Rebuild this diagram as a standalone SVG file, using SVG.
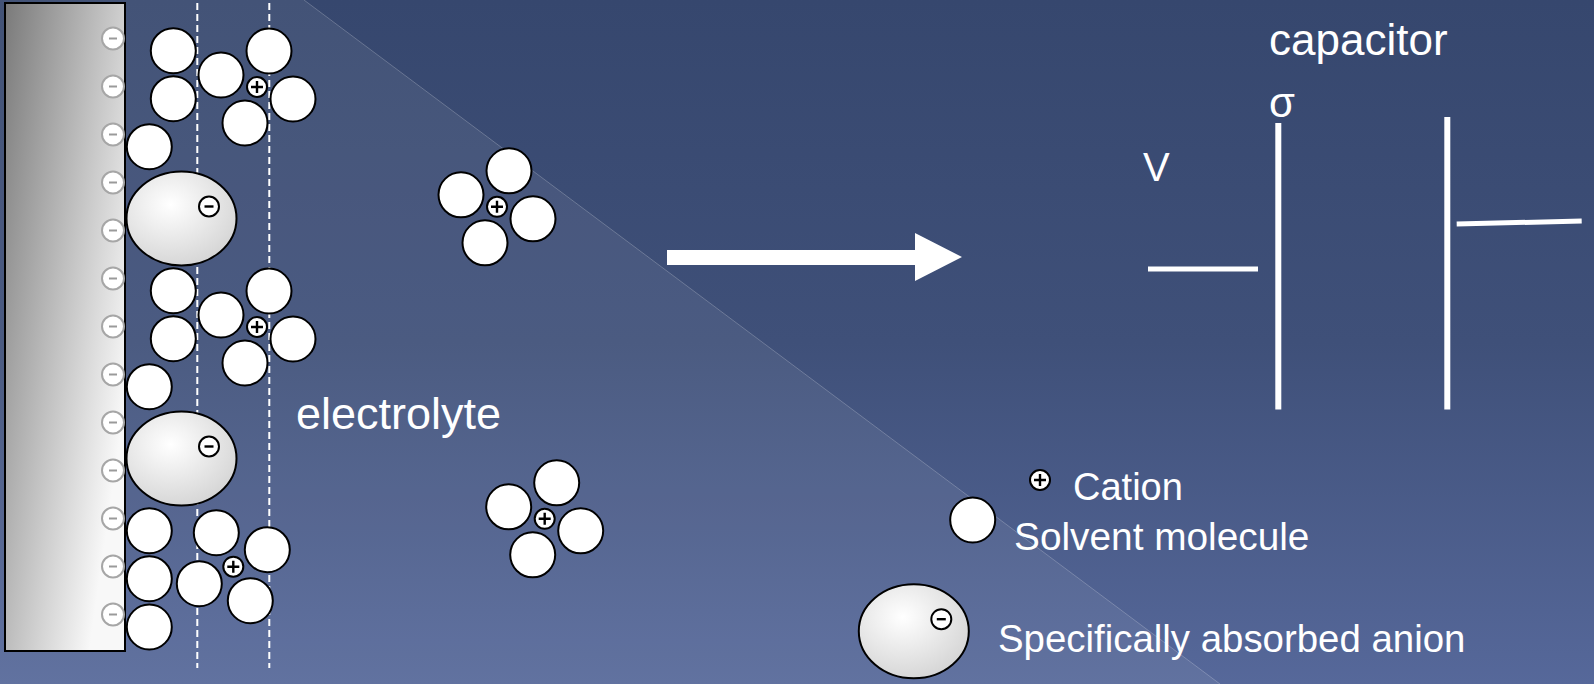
<svg xmlns="http://www.w3.org/2000/svg" xmlns:xlink="http://www.w3.org/1999/xlink" width="1594" height="684" viewBox="0 0 1594 684">
  <style>
    .solv { fill: #ffffff; stroke: #000000; stroke-width: 2; }
    .ion { fill: #ffffff; stroke: #000000; stroke-width: 2; }
    .sign { stroke: #000000; stroke-width: 2.4; fill: none; }
    .surf { fill: #ffffff; stroke: #a6a6a6; stroke-width: 2; }
    .surf-sign { stroke: #9a9a9a; stroke-width: 2; }
    .anion { fill: url(#anionFill); stroke: #000000; stroke-width: 2; }
    .dash { stroke: #ffffff; stroke-width: 2; stroke-dasharray: 7 4; fill: none; }
    .wire { stroke: #ffffff; stroke-width: 5; fill: none; }
    .plate { stroke: #ffffff; stroke-width: 6; fill: none; }
    .lbl { font-family: "Liberation Sans", Arial, sans-serif; fill: #ffffff; }
  </style>
  <defs>
    <linearGradient id="bg" x1="0" y1="0" x2="0" y2="1">
      <stop offset="0" stop-color="#36476e"/>
      <stop offset="0.5" stop-color="#3f5079"/>
      <stop offset="1" stop-color="#56689a"/>
    </linearGradient>
    <linearGradient id="metal" gradientUnits="userSpaceOnUse" x1="5" y1="3" x2="179" y2="28">
      <stop offset="0" stop-color="#7a7a7a"/>
      <stop offset="1" stop-color="#f8f8f8"/>
    </linearGradient>
    <radialGradient id="anionFill" cx="0.4" cy="0.35" r="0.7">
      <stop offset="0" stop-color="#ffffff"/>
      <stop offset="1" stop-color="#d4d4d4"/>
    </radialGradient>

    <!-- cation with its charge -->
    <g id="cation">
      <circle class="ion" r="10"/>
      <path class="sign" d="M-6 0H6M0 -6V6"/>
    </g>
    <!-- small charge badge used on anions -->
    <g id="minus">
      <circle class="ion" r="10"/>
      <path class="sign" d="M-4.5 0H4.5" stroke-width="3"/>
    </g>
    <!-- negative surface charge on the electrode -->
    <g id="surf">
      <circle class="surf" r="11"/>
      <path class="surf-sign" d="M-4 0H4"/>
    </g>
    <!-- hydrated cation: four solvent molecules round a cation -->
    <g id="hydA">
      <circle class="solv" cx="-36" cy="-12" r="22.5"/>
      <circle class="solv" cx="12" cy="-36" r="22.5"/>
      <circle class="solv" cx="36" cy="12" r="22.5"/>
      <circle class="solv" cx="-12" cy="36" r="22.5"/>
      <use href="#cation"/>
    </g>
    <g id="hydB">
      <circle class="solv" cx="-17" cy="-34" r="22.5"/>
      <circle class="solv" cx="-34" cy="17" r="22.5"/>
      <circle class="solv" cx="34" cy="-17" r="22.5"/>
      <circle class="solv" cx="17" cy="34" r="22.5"/>
      <use href="#cation"/>
    </g>
    <!-- specifically adsorbed anion -->
    <g id="anion">
      <ellipse class="anion" rx="55" ry="47"/>
      <use href="#minus" x="27.5" y="-12"/>
    </g>
  </defs>

  <!-- background -->
  <rect width="1594" height="684" fill="url(#bg)"/>
  <polygon points="0,0 304,0 1220,684 0,684" fill="#ffffff" fill-opacity="0.065"/>
  <line x1="304" y1="0" x2="1220" y2="684" stroke="#ffffff" stroke-opacity="0.22" stroke-width="1"/>

  <!-- electrode -->
  <g id="electrode">
    <rect x="5" y="3" width="120" height="648" fill="url(#metal)" stroke="#000000" stroke-width="2"/>
  </g>

  <!-- surface charges -->
  <g id="surface-charges">
    <use href="#surf" x="113" y="38.5"/>
    <use href="#surf" x="113" y="86.5"/>
    <use href="#surf" x="113" y="134.5"/>
    <use href="#surf" x="113" y="182.5"/>
    <use href="#surf" x="113" y="230.5"/>
    <use href="#surf" x="113" y="278.5"/>
    <use href="#surf" x="113" y="326.5"/>
    <use href="#surf" x="113" y="374.5"/>
    <use href="#surf" x="113" y="422.5"/>
    <use href="#surf" x="113" y="470.5"/>
    <use href="#surf" x="113" y="518.5"/>
    <use href="#surf" x="113" y="566.5"/>
    <use href="#surf" x="113" y="614.5"/>
  </g>

  <!-- Helmholtz planes -->
  <g id="planes">
    <line class="dash" x1="197.3" y1="3" x2="197.3" y2="668"/>
    <line class="dash" x1="269.3" y1="3" x2="269.3" y2="668"/>
  </g>

  <!-- double layer: top section -->
  <g id="layer-top">
    <circle class="solv" cx="173.3" cy="50.7" r="22.5"/>
    <circle class="solv" cx="173.3" cy="98.7" r="22.5"/>
    <use href="#hydA" x="257" y="87"/>
    <circle class="solv" cx="149.3" cy="146.7" r="22.5"/>
    <use href="#anion" x="181.5" y="218.5"/>
  </g>

  <!-- double layer: middle section -->
  <g id="layer-middle">
    <circle class="solv" cx="173.3" cy="290.7" r="22.5"/>
    <circle class="solv" cx="173.3" cy="338.7" r="22.5"/>
    <use href="#hydA" x="257" y="327"/>
    <circle class="solv" cx="149.3" cy="386.7" r="22.5"/>
    <use href="#anion" x="181.5" y="458.5"/>
  </g>

  <!-- double layer: bottom section -->
  <g id="layer-bottom">
    <circle class="solv" cx="149.3" cy="530.7" r="22.5"/>
    <circle class="solv" cx="149.3" cy="578.7" r="22.5"/>
    <circle class="solv" cx="149.3" cy="627" r="22.5"/>
    <use href="#hydB" x="233.3" y="566.7"/>
  </g>

  <!-- free solvated cations in the bulk -->
  <g id="bulk-cation-1">
    <use href="#hydA" x="497" y="206.8"/>
  </g>
  <g id="bulk-cation-2">
    <use href="#hydA" x="544.7" y="518.8"/>
  </g>

  <g id="electrolyte-label">
    <text class="lbl" x="296" y="429" font-size="45">electrolyte</text>
  </g>

  <!-- connectors -->
  <g id="connectors">
    <polygon points="667,250 915,250 915,233 962,257 915,281 915,265 667,265" fill="#ffffff"/>
  </g>

  <!-- equivalent capacitor -->
  <g id="capacitor">
    <text class="lbl" x="1269" y="55" font-size="44">capacitor</text>
    <text class="lbl" x="1269" y="117" font-size="42">σ</text>
    <text class="lbl" x="1143" y="181" font-size="40">V</text>
    <line class="wire" x1="1148" y1="269" x2="1258" y2="269"/>
    <line class="plate" x1="1278.3" y1="123" x2="1278.3" y2="409.5"/>
    <line class="plate" x1="1447.3" y1="117" x2="1447.3" y2="409.5"/>
    <line class="wire" x1="1456.7" y1="224" x2="1581.7" y2="221"/>
  </g>

  <!-- legend -->
  <g id="legend-cation">
    <use href="#cation" x="1040" y="480"/>
    <text class="lbl" x="1073" y="500" font-size="38">Cation</text>
  </g>
  <g id="legend-solvent">
    <circle class="solv" cx="972.7" cy="520" r="22.5"/>
    <text class="lbl" x="1014" y="550" font-size="38.8">Solvent molecule</text>
  </g>
  <g id="legend-anion">
    <use href="#anion" x="913.8" y="631.2"/>
    <text class="lbl" x="998" y="652" font-size="38.4">Specifically absorbed anion</text>
  </g>
</svg>
